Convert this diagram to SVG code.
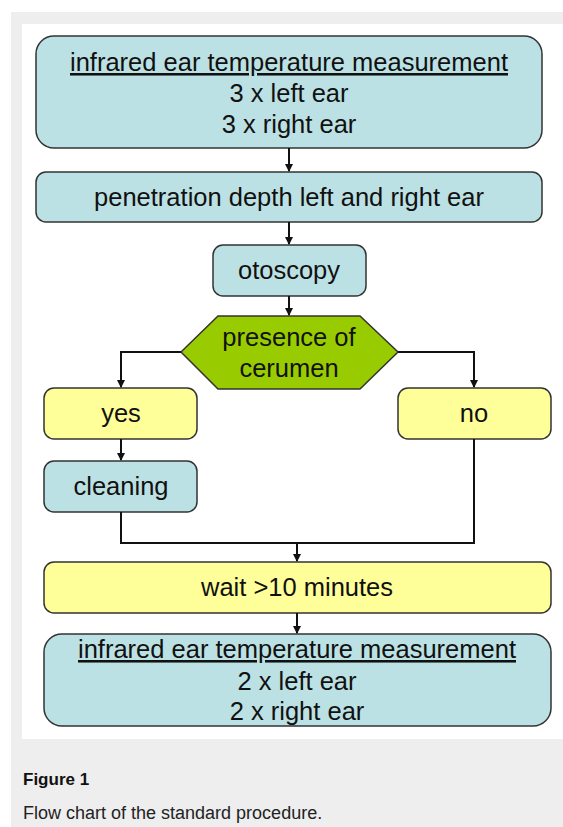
<svg xmlns="http://www.w3.org/2000/svg" width="563" height="827" viewBox="0 0 563 827">
<defs>
<marker id="ah" markerWidth="8" markerHeight="8" refX="7" refY="4" orient="auto" markerUnits="userSpaceOnUse">
<path d="M0,0 L8,4 L0,8 z" fill="#111"/>
</marker>
<style>
.cy{fill:#bce1e4;stroke:#333;stroke-width:1.5}
.ye{fill:#ffff99;stroke:#333;stroke-width:1.5}
.gr{fill:#99cc00;stroke:#333;stroke-width:1.5}
.t{font-family:"Liberation Sans",Arial,sans-serif;font-size:25.5px;fill:#111;text-anchor:middle}
.c{fill:none;stroke:#111;stroke-width:2}
</style>
</defs>
<rect x="0" y="0" width="563" height="827" fill="#ffffff"/>
<rect x="11" y="12" width="552" height="815" fill="#eeeeee"/>
<rect x="22" y="24" width="541" height="715" fill="#ffffff"/>
<g id="n1"><rect class="cy" x="36" y="36" width="506" height="112" rx="18"/>
<text class="t" x="289" y="71" text-decoration="underline">infrared ear temperature measurement</text>
<text class="t" x="289" y="102">3 x left ear</text>
<text class="t" x="289" y="133">3 x right ear</text></g>
<g id="n2"><rect class="cy" x="36" y="172" width="506" height="50" rx="10"/>
<text class="t" x="289" y="206">penetration depth left and right ear</text></g>
<g id="n3"><rect class="cy" x="213" y="245" width="153" height="51" rx="10"/>
<text class="t" x="289" y="279">otoscopy</text></g>
<g id="n4"><polygon class="gr" points="181,352 218,316 360,316 398,352 360,389 218,389"/>
<text class="t" x="289" y="346">presence of</text>
<text class="t" x="289" y="377">cerumen</text></g>
<g id="n5"><rect class="ye" x="44" y="388" width="153" height="51" rx="10"/>
<text class="t" x="121" y="422">yes</text></g>
<g id="n6"><rect class="ye" x="398" y="388" width="153" height="51" rx="10"/>
<text class="t" x="474" y="422">no</text></g>
<g id="n7"><rect class="cy" x="44" y="461" width="153" height="51" rx="10"/>
<text class="t" x="121" y="495">cleaning</text></g>
<g id="n8"><rect class="ye" x="44" y="562" width="507" height="51" rx="10"/>
<text class="t" x="297" y="596">wait &gt;10 minutes</text></g>
<g id="n9"><rect class="cy" x="44" y="634" width="507" height="92" rx="18"/>
<text class="t" x="297" y="658" text-decoration="underline">infrared ear temperature measurement</text>
<text class="t" x="297" y="690">2 x left ear</text>
<text class="t" x="297" y="720">2 x right ear</text></g>
<g id="connectors">
<path class="c" d="M289,148 V171" marker-end="url(#ah)"/>
<path class="c" d="M289,222 V244" marker-end="url(#ah)"/>
<path class="c" d="M289,296 V315" marker-end="url(#ah)"/>
<path class="c" d="M181,352 H121 V387" marker-end="url(#ah)"/>
<path class="c" d="M398,352 H474 V387" marker-end="url(#ah)"/>
<path class="c" d="M121,439 V460" marker-end="url(#ah)"/>
<path class="c" d="M121,512 V543 H474 V439"/>
<path class="c" d="M297,543 V561" marker-end="url(#ah)"/>
<path class="c" d="M297,613 V633" marker-end="url(#ah)"/>
</g>
<text x="23" y="785" font-family="Liberation Sans,Arial,sans-serif" font-size="17" font-weight="bold" fill="#111">Figure 1</text>
<text x="23" y="819" font-family="Liberation Sans,Arial,sans-serif" font-size="18" fill="#222">Flow chart of the standard procedure.</text>
</svg>
